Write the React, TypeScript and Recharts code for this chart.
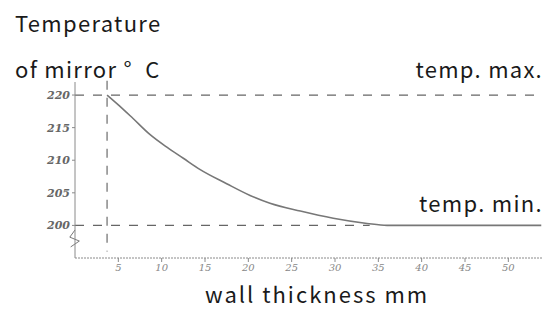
import { LineChart, Line, XAxis, YAxis, ReferenceLine } from "recharts";

const thickness = [3.7, 5, 6.7, 8.6, 10.6, 12.5, 14.4, 17.5, 20.2, 22.5, 26, 29.8, 33.7, 36, 40, 45, 50, 53.8];
const mirrorTemp = [220, 218.5, 216.4, 214, 212, 210.3, 208.6, 206.4, 204.6, 203.4, 202.2, 201.1, 200.3, 200, 200, 200, 200, 200];
const xTicks = [5, 10, 15, 20, 25, 30, 35, 40, 45, 50];
const yTicks = [200, 205, 210, 215, 220];

const data = thickness.map((t, i) => ({ t, temp: mirrorTemp[i] }));

const FONT = '"Noto Sans CJK JP", "Noto Sans", sans-serif';
const PENCIL = "#8a8a8a";

const xTick = { fontSize: 10, fill: "#888", fontStyle: "italic", fontFamily: '"DejaVu Serif", serif' };
const yTick = { fontSize: 11, fill: "#666", fontStyle: "italic", fontWeight: 600, fontFamily: '"DejaVu Serif", serif' };
const textStyle = { position: "absolute" as const, fontSize: 22, letterSpacing: 1.3, whiteSpace: "pre" as const, lineHeight: "24px" };

export default function App() {
  return (
    <div style={{ position: "absolute", left: 0, top: 0, width: 558, height: 311, background: "#fff", fontFamily: FONT, color: "#1a1a1a" }}>
      <LineChart width={558} height={311} data={data} margin={{ top: 82, right: 15, bottom: 23, left: 30 }}>
        <XAxis
          dataKey="t"
          type="number"
          domain={[0, 54]}
          ticks={xTicks}
          axisLine={{ stroke: PENCIL, strokeDasharray: "2 1" }}
          tickLine={{ stroke: PENCIL }}
          tickSize={4}
          tick={xTick}
          height={30}
        />
        <YAxis
          type="number"
          domain={[195, 222]}
          ticks={yTicks}
          axisLine={{ stroke: PENCIL }}
          tickLine={{ stroke: PENCIL }}
          tickSize={3}
          tick={yTick}
          width={45}
        />
        <ReferenceLine y={220} stroke="#666" strokeDasharray="9 9" strokeWidth={1.3} />
        <ReferenceLine segment={[{ x: 0, y: 200 }, { x: 34, y: 200 }]} stroke="#666" strokeDasharray="9 9" strokeWidth={1.3} />
        <ReferenceLine segment={[{ x: 3.7, y: 222.2 }, { x: 3.7, y: 196 }]} stroke="#777" strokeDasharray="9 8" strokeWidth={1.3} ifOverflow="visible" />
        <ReferenceLine segment={[{ x: 0, y: 199.3 }, { x: -0.6, y: 198.2 }]} stroke="#777" ifOverflow="visible" />
        <ReferenceLine segment={[{ x: -0.6, y: 198.2 }, { x: 0.5, y: 197.6 }]} stroke="#777" ifOverflow="visible" />
        <ReferenceLine segment={[{ x: 0.5, y: 197.6 }, { x: -0.5, y: 196.7 }]} stroke="#777" ifOverflow="visible" />
        <Line
          dataKey="temp"
          type="monotone"
          stroke="#777"
          strokeWidth={1.6}
          dot={false}
          isAnimationActive={false}
        />
      </LineChart>
      <div style={{ ...textStyle, left: 15, top: 10 }}>Temperature</div>
      <div style={{ ...textStyle, left: 15, top: 56 }}>of mirror °  C</div>
      <div style={{ ...textStyle, right: 15, top: 56 }}>temp. max.</div>
      <div style={{ ...textStyle, right: 15, top: 190 }}>temp. min.</div>
      <div style={{ ...textStyle, left: 205, top: 281, letterSpacing: 2 }}>wall thickness mm</div>
    </div>
  );
}
